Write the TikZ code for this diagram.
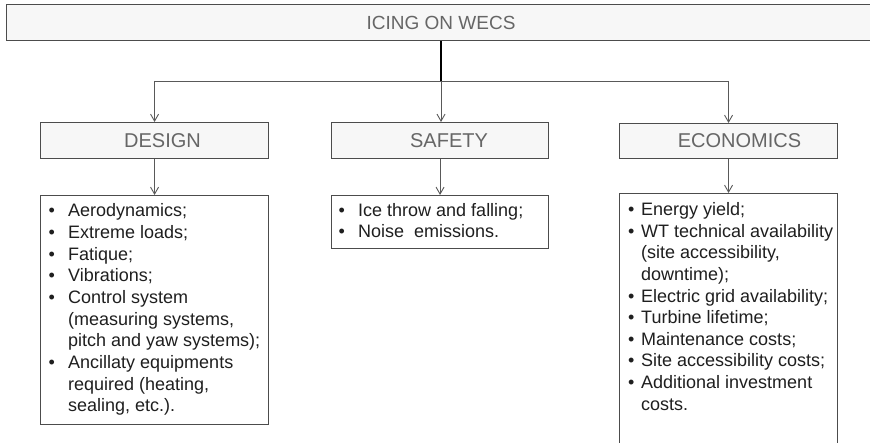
\documentclass[tikz,border=0pt]{standalone}
\usepackage{fontspec}
\setmainfont{Liberation Sans}
\usetikzlibrary{arrows.meta}
\tikzset{
  hdr/.style={draw=black!70, line width=1.1pt, fill=black!3, text=black!60,
    font=\fontsize{20}{24}\selectfont, inner sep=0pt, anchor=north west},
  lst/.style={draw=black!70, line width=1.1pt, fill=white, inner sep=0pt, anchor=north west},
  conn/.style={draw=black!65, line width=0.9pt},
  arr/.style={conn, -{Straight Barb[length=7pt,width=8pt]}},
  stem/.style={draw=black, line width=1.5pt},
  ltxt/.style={anchor=base west, inner sep=0pt, text=black!88}
}
\newcommand\bul[1][19.5pt]{\makebox[#1][l]{\textbullet}}
\begin{document}
\begin{tikzpicture}[x=1pt,y=-1pt]
\useasboundingbox (0,0) rectangle (870,443);
% top
\node[hdr, minimum width=869pt, minimum height=36pt, font=\fontsize{19}{22}\selectfont] (top) at (6,4) {ICING ON WECS};
% headers
\node[hdr, minimum width=228pt, minimum height=36pt] (design) at (40,122) {\hspace*{16pt}DESIGN};
\node[hdr, minimum width=217pt, minimum height=36pt] (safety) at (331,122) {\hspace*{18pt}SAFETY};
\node[hdr, minimum width=218pt, minimum height=35pt] (econ) at (619,123) {\hspace*{22pt}ECONOMICS};
% list boxes
\node[lst, minimum width=228pt, minimum height=229pt] (dlist) at (40,195) {};
\node[lst, minimum width=217pt, minimum height=53pt] (slist) at (331,195) {};
\node[lst, minimum width=218pt, minimum height=280pt] (elist) at (619,193) {};
% list texts
\node[ltxt, font=\fontsize{18}{21.7}\selectfont] (dtext) at (48.5,216.7) {%
\begin{tabular}[t]{@{}l@{}l@{}}
\bul & Aerodynamics;\\
\bul & Extreme loads;\\
\bul & Fatique;\\
\bul & Vibrations;\\
\bul & Control system\\
 & (measuring systems,\\
 & pitch and yaw systems);\\
\bul & Ancillaty equipments\\
 & required (heating,\\
 & sealing, etc.).
\end{tabular}};
\node[ltxt, font=\fontsize{18}{21}\selectfont] (stext) at (338.5,217) {%
\begin{tabular}[t]{@{}l@{}l@{}}
\bul[19.5pt] & Ice throw and falling;\\
\bul[19.5pt] & Noise\ \ emissions.
\end{tabular}};
\node[ltxt, font=\fontsize{18}{21.6}\selectfont] (etext) at (628,215.7) {%
\begin{tabular}[t]{@{}l@{}l@{}}
\bul[13pt] & Energy yield;\\
\bul[13pt] & WT technical availability\\
 & (site accessibility,\\
 & downtime);\\
\bul[11pt] & Electric grid availability;\\
\bul[13pt] & Turbine lifetime;\\
\bul[13pt] & Maintenance costs;\\
\bul[13pt] & Site accessibility costs;\\
\bul[13pt] & Additional investment\\
 & costs.
\end{tabular}};
% connectors
\coordinate (j) at (441,81);
\draw[stem] (top.south -| j) -- (j);
\draw[conn] (design.north |- j) -- (econ.north |- j);
\draw[arr] (design.north |- j) -- (design.north);
\draw[arr] (j) -- (j |- safety.north);
\draw[arr] (econ.north |- j) -- (econ.north);
\draw[arr] (design.south) -- (dlist.north);
\draw[arr] (safety.south) -- (slist.north);
\draw[arr] (econ.south) -- (elist.north);
\end{tikzpicture}
\end{document}
